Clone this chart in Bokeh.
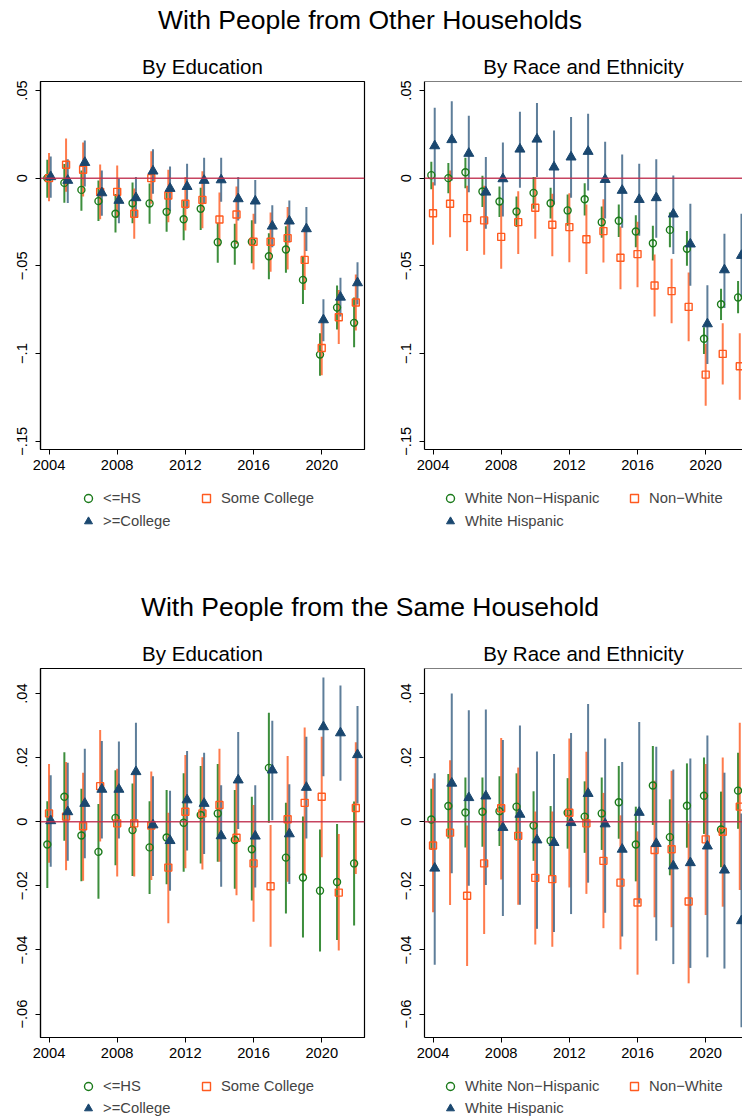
from bokeh.plotting import figure
from bokeh.models import ColumnDataSource, Div, FixedTicker, Legend, LegendItem, Span
from bokeh.layouts import column, row
from bokeh.embed import file_html
from bokeh.resources import INLINE

FONT = "Liberation Sans"
GREEN, ORANGE, NAVY = "#1a7a1a", "#ff5a1f", "#1a476f"
ZERO_RED = "#c0304f"

years = [2004, 2005, 2006, 2007, 2008, 2009, 2010, 2011, 2012, 2013,
         2014, 2015, 2016, 2017, 2018, 2019, 2020, 2021, 2022]
x_ticks = [2004, 2008, 2012, 2016, 2020]

top_title = "With People from Other Households"
bottom_title = "With People from the Same Household"
edu_title = "By Education"
race_title = "By Race and Ethnicity"
edu_labels = ["<=HS", "Some College", ">=College"]
race_labels = ["White Non\u2212Hispanic", "Non\u2212White", "White Hispanic"]

top_yticks = [0.05, 0.0, -0.05, -0.1, -0.15]
top_ylabels = [".05", "0", "\u2212.05", "\u2212.1", "\u2212.15"]
bot_yticks = [0.04, 0.02, 0.0, -0.02, -0.04, -0.06]
bot_ylabels = [".04", ".02", "0", "\u2212.02", "\u2212.04", "\u2212.06"]

# --- other households, by education
oth_hs = [0.000, -0.0027, -0.0067, -0.0131, -0.0203, -0.0143, -0.0144, -0.0192, -0.0234, -0.0175,
          -0.0365, -0.0378, -0.0363, -0.0445, -0.0407, -0.058, -0.1006, -0.0738, -0.0825]
oth_hs_lo = [-0.0112, -0.014, -0.0186, -0.0245, -0.031, -0.0257, -0.026, -0.0306, -0.0354, -0.0295,
             -0.0483, -0.0494, -0.0485, -0.0576, -0.054, -0.0717, -0.1127, -0.0863, -0.0964]
oth_hs_hi = [0.0105, 0.008, 0.0044, -0.0013, -0.009, -0.0025, -0.003, -0.008, -0.0127, -0.0055,
             -0.0255, -0.026, -0.024, -0.0314, -0.0274, -0.045, -0.0884, -0.0612, -0.068]
oth_sc = [0.0, 0.0076, 0.0048, -0.0078, -0.0078, -0.0203, 0.0, -0.0099, -0.0146, -0.0124,
          -0.0236, -0.0207, -0.0363, -0.0363, -0.0342, -0.0466, -0.0968, -0.0793, -0.0709]
oth_sc_lo = [-0.0131, -0.0078, -0.0105, -0.0234, -0.0226, -0.0346, -0.0146, -0.0251, -0.0298, -0.0285,
             -0.0388, -0.0375, -0.0521, -0.0534, -0.0521, -0.0637, -0.1124, -0.0945, -0.0869]
oth_sc_hi = [0.0143, 0.0226, 0.0203, 0.0078, 0.0072, -0.0059, 0.0154, 0.0048, 0.0006, 0.004,
             -0.0082, -0.0048, -0.0203, -0.0196, -0.0165, -0.0285, -0.0812, -0.0637, -0.0549]
oth_col = [0.0008, -0.0013, 0.0089, -0.0084, -0.0127, -0.0112, 0.004, -0.0059, -0.0048, -0.0013,
           -0.001, -0.0118, -0.0131, -0.0274, -0.0245, -0.0289, -0.0808, -0.0679, -0.0597]
oth_col_lo = [-0.0112, -0.0141, -0.0048, -0.0215, -0.0257, -0.0226, -0.0089, -0.0188, -0.0175, -0.0143,
              -0.0135, -0.0241, -0.026, -0.0394, -0.0367, -0.0416, -0.093, -0.0789, -0.072]
oth_col_hi = [0.0124, 0.0108, 0.0215, 0.0044, -0.0004, 0.0006, 0.0165, 0.0067, 0.0082, 0.0116,
              0.0116, 0.0006, -0.001, -0.0154, -0.0127, -0.0165, -0.069, -0.0568, -0.0479]

# --- other households, by race and ethnicity
oth_wnh = [0.0017, 0.0, 0.0034, -0.0076, -0.0133, -0.019, -0.0084, -0.0143, -0.0184, -0.012,
           -0.0251, -0.0243, -0.0304, -0.0371, -0.0295, -0.0403, -0.0916, -0.0719, -0.068]
oth_wnh_lo = [-0.0063, -0.0086, -0.0057, -0.0165, -0.0222, -0.0279, -0.0175, -0.023, -0.0272, -0.0213,
              -0.034, -0.0336, -0.0394, -0.047, -0.0394, -0.05, -0.1002, -0.0808, -0.077]
oth_wnh_hi = [0.0093, 0.0086, 0.0116, 0.0013, -0.0048, -0.0105, 0.0006, -0.0055, -0.0093, -0.0029,
              -0.0162, -0.015, -0.0211, -0.0272, -0.0196, -0.0302, -0.085, -0.063, -0.0587]
oth_nw = [-0.02, -0.0146, -0.0228, -0.0241, -0.0335, -0.0251, -0.0169, -0.0266, -0.0279, -0.0348,
          -0.0302, -0.0454, -0.0433, -0.0612, -0.0644, -0.0734, -0.112, -0.1002, -0.1072]
oth_nw_lo = [-0.038, -0.0337, -0.0416, -0.0437, -0.0517, -0.0432, -0.0346, -0.0445, -0.0479, -0.0546,
             -0.0481, -0.0633, -0.0622, -0.0789, -0.0827, -0.093, -0.1298, -0.1177, -0.1264]
oth_nw_hi = [-0.0023, 0.0044, -0.0044, -0.0044, -0.015, -0.0074, 0.0006, -0.0089, -0.0086, -0.015,
             -0.012, -0.0276, -0.0249, -0.0435, -0.046, -0.0538, -0.0945, -0.0827, -0.0884]
oth_wh = [0.0184, 0.0219, 0.0141, -0.008, -0.0004, 0.0165, 0.0222, 0.0063, 0.012, 0.0152,
          -0.0008, -0.007, -0.0122, -0.0112, -0.0205, -0.0376, -0.0831, -0.0523, -0.0441]
oth_wh_lo = [-0.0042, -0.0013, -0.008, -0.0289, -0.0219, -0.0055, 0.0006, -0.015, -0.0112, -0.007,
             -0.023, -0.0283, -0.0329, -0.034, -0.0432, -0.0614, -0.1059, -0.074, -0.0679]
oth_wh_hi = [0.0401, 0.0439, 0.0356, 0.012, 0.0203, 0.0378, 0.0428, 0.0272, 0.0348, 0.0367,
             0.0207, 0.0135, 0.0082, 0.0108, 0.0015, -0.0146, -0.061, -0.0317, -0.0203]

# --- same household, by education
same_hs = [-0.0071, 0.0078, -0.0043, -0.0094, 0.0012, -0.0026, -0.008, -0.0049, -0.0003, 0.0021,
           0.0026, -0.0057, -0.0086, 0.0168, -0.0112, -0.0174, -0.0215, -0.0188, -0.013]
same_hs_lo = [-0.0207, -0.0059, -0.0186, -0.024, -0.0136, -0.0169, -0.0225, -0.0195, -0.0156, -0.013,
              -0.0125, -0.0209, -0.0246, -0.0003, -0.0286, -0.0361, -0.0405, -0.0369, -0.0324]
same_hs_hi = [0.0064, 0.0217, 0.0103, 0.0055, 0.0161, 0.0119, 0.0064, 0.0099, 0.0151, 0.0174,
              0.018, 0.0099, 0.0078, 0.034, 0.0059, 0.0016, -0.0024, -0.0007, 0.0063]
same_sc = [0.0026, 0.0016, -0.0014, 0.0111, -0.0005, -0.0005, -0.0012, -0.0143, 0.0031, 0.0026,
           0.0052, -0.005, -0.013, -0.0201, 0.0008, 0.0059, 0.0078, -0.0221, 0.0043]
same_sc_lo = [-0.0128, -0.0151, -0.0184, -0.0062, -0.0171, -0.0171, -0.0182, -0.0317, -0.0145, -0.0149,
              -0.0125, -0.0229, -0.0312, -0.039, -0.0187, -0.0168, -0.0111, -0.0402, -0.0163]
same_sc_hi = [0.018, 0.0186, 0.0153, 0.0286, 0.0165, 0.0156, 0.0157, 0.0028, 0.0208, 0.0201,
              0.0228, 0.013, 0.0052, -0.001, 0.0205, 0.0294, 0.0265, -0.0038, 0.0248]
same_col = [0.0003, 0.0031, 0.0057, 0.0101, 0.0101, 0.0156, -0.001, -0.0059, 0.0068, 0.0057,
            -0.0044, 0.013, -0.0045, 0.0161, -0.0038, 0.0107, 0.0296, 0.0277, 0.0209]
same_col_lo = [-0.014, -0.0122, -0.0114, -0.0052, -0.0052, 0.0003, -0.0169, -0.0215, -0.009, -0.0101,
               -0.0203, -0.0023, -0.0205, 0.0005, -0.0194, -0.0052, 0.0142, 0.0128, 0.0057]
same_col_hi = [0.0145, 0.0184, 0.0228, 0.0252, 0.025, 0.0309, 0.0142, 0.0097, 0.0221, 0.0215,
               0.0114, 0.028, 0.0114, 0.0315, 0.0117, 0.0265, 0.045, 0.0425, 0.0361]

# --- same household, by race and ethnicity
same_wnh = [0.0007, 0.0049, 0.0029, 0.0031, 0.0033, 0.0047, -0.0012, -0.0059, 0.0028, 0.0016,
            0.0026, 0.0061, -0.0071, 0.0113, -0.0048, 0.005, 0.0081, -0.0024, 0.0097]
same_wnh_lo = [-0.0088, -0.0052, -0.008, -0.0078, -0.0076, -0.0059, -0.0122, -0.0167, -0.0084, -0.0097,
               -0.0088, -0.0053, -0.0186, -0.001, -0.0167, -0.0081, -0.0038, -0.0142, -0.0022]
same_wnh_hi = [0.0103, 0.0149, 0.0138, 0.0138, 0.0142, 0.0151, 0.0095, 0.0049, 0.0136, 0.0126,
               0.0138, 0.0174, 0.0047, 0.0236, 0.007, 0.0182, 0.02, 0.0094, 0.0215]
same_nw = [-0.0074, -0.0034, -0.0231, -0.013, 0.0042, -0.0044, -0.0175, -0.0179, 0.0028, -0.0005,
           -0.0122, -0.019, -0.0252, -0.0088, -0.0086, -0.0249, -0.0055, -0.0031, 0.0047]
same_nw_lo = [-0.0282, -0.026, -0.045, -0.035, -0.018, -0.0259, -0.0383, -0.039, -0.0205, -0.0225,
              -0.0332, -0.0398, -0.0477, -0.0298, -0.0329, -0.0504, -0.0291, -0.0265, -0.0213]
same_nw_hi = [0.0135, 0.0192, -0.0012, 0.0088, 0.0261, 0.0169, 0.0032, 0.0032, 0.026, 0.0218,
              0.009, 0.002, -0.003, 0.0128, 0.0159, -0.0005, 0.018, 0.02, 0.0309]
same_wh = [-0.0145, 0.012, 0.0075, 0.008, -0.0018, 0.0023, -0.0057, -0.0065, -0.0003, 0.0088,
           -0.0007, -0.0086, 0.0029, -0.0068, -0.0138, -0.0128, -0.0076, -0.0151, -0.0309]
same_wh_lo = [-0.0446, -0.0161, -0.02, -0.0197, -0.0294, -0.0259, -0.0334, -0.0344, -0.0288, -0.019,
              -0.0284, -0.0358, -0.0255, -0.0371, -0.0444, -0.0456, -0.0423, -0.0458, -0.0641]
same_wh_hi = [0.0151, 0.04, 0.0348, 0.035, 0.0255, 0.03, 0.0219, 0.0211, 0.0277, 0.0367,
              0.026, 0.0186, 0.0311, 0.0234, 0.0163, 0.0197, 0.0269, 0.0153, 0.0026]

# colour, marker, sideways nudge, size, error-bar alpha
STYLES = [(GREEN, "circle", -0.1, 7, 0.85), (ORANGE, "square", 0.0, 7, 0.8), (NAVY, "triangle", 0.1, 10, 0.7)]


def add_markers(p, src, style):
    color, marker, off, size, alpha = style
    if marker == "triangle":
        return p.scatter(x="x", y="y", source=src, marker=marker, size=size,
                         fill_color=color, line_color=color, line_width=1)
    return p.scatter(x="x", y="y", source=src, marker=marker, size=size,
                     fill_color=None, line_color=color, line_width=1.4)


def panel(title, series, labels, y_range, yticks, ylabels, right, frame_h, leg_h, leg_rows):
    width = 350 if right else 392
    x_end = 2022.16 if right else 2022.51
    p = figure(width=width, height=38 + frame_h + 26, x_range=(2003.5, x_end), y_range=y_range,
               title=title, output_backend="svg", toolbar_location=None,
               min_border_left=32 if right else 40, min_border_right=0 if right else 28,
               min_border_top=38, min_border_bottom=26)
    p.title.text_font = FONT
    p.title.text_font_size = "20.5px"
    p.title.text_font_style = "normal"
    p.title.text_color = "black"
    p.title.align = "center"
    p.title.standoff = 8
    p.xgrid.visible = False
    p.ygrid.visible = False
    if right:
        # the reference is cut at the window edge, so no right border
        p.outline_line_color = None
        p.add_layout(Span(location=y_range[1], dimension="width", line_color="black", line_width=1.2))
    else:
        p.outline_line_color = "black"
        p.outline_line_width = 1.2
        p.outline_line_alpha = 1

    for ax in (p.xaxis[0], p.yaxis[0]):
        ax.axis_line_color = "black"
        ax.axis_line_width = 1.2
        ax.major_tick_out = 5
        ax.major_tick_in = 0
        ax.major_tick_line_width = 1
        ax.minor_tick_line_color = None
        ax.major_label_text_font = FONT
        ax.major_label_text_font_size = "14.7px"
        ax.major_label_text_color = "black"
    p.xaxis.ticker = FixedTicker(ticks=x_ticks)
    p.xaxis.major_label_standoff = 5
    p.yaxis.ticker = FixedTicker(ticks=yticks)
    p.yaxis.major_label_overrides = dict(zip(yticks, ylabels))
    p.yaxis.major_label_orientation = "vertical"
    p.yaxis.major_label_standoff = 8

    p.add_layout(Span(location=0, dimension="width", line_color=ZERO_RED, line_width=1.5, line_alpha=0.9))

    sources = []
    for (est, lo, hi), style in zip(series, STYLES):
        color, marker, off, size, alpha = style
        src = ColumnDataSource(data=dict(x=[yr + off for yr in years], y=est, lo=lo, hi=hi))
        sources.append(src)
        p.segment(x0="x", y0="lo", x1="x", y1="hi", source=src,
                  line_color=color, line_width=2, line_alpha=alpha)
    for src, style in zip(sources, STYLES):
        add_markers(p, src, style)

    # legend strip under the panel; its markers use the same sources, out of view
    leg = figure(width=width, height=leg_h, x_range=(0, 1), y_range=(0, 1),
                 output_backend="svg", toolbar_location=None,
                 x_axis_location=None, y_axis_location=None,
                 min_border_left=0, min_border_right=0, min_border_top=0, min_border_bottom=0)
    leg.outline_line_color = None
    leg.xgrid.visible = False
    leg.ygrid.visible = False
    items = [LegendItem(label=label, renderers=[add_markers(leg, src, style)])
             for src, style, label in zip(sources, STYLES, labels)]
    # the strip's frame lines up with the panel frame above it
    vx = 16 if right else 38
    label_w = 159 if right else 93
    for row_items, vy in zip([items[:2], items[2:]], leg_rows):
        legend = Legend(items=row_items, orientation="horizontal", location=(vx, vy),
                        label_text_font=FONT, label_text_font_size="14.8px",
                        glyph_width=20, glyph_height=20, label_height=20,
                        label_standoff=5, label_width=label_w, spacing=0,
                        padding=0, margin=0, border_line_color=None, background_fill_alpha=0)
        leg.add_layout(legend)
    return column(p, leg, spacing=0)


tl = panel(edu_title, [(oth_hs, oth_hs_lo, oth_hs_hi), (oth_sc, oth_sc_lo, oth_sc_hi),
                       (oth_col, oth_col_lo, oth_col_hi)], edu_labels,
           (-0.1547, 0.0551), top_yticks, top_ylabels, False, 368, 120, (87, 64))
tr = panel(race_title, [(oth_wnh, oth_wnh_lo, oth_wnh_hi), (oth_nw, oth_nw_lo, oth_nw_hi),
                        (oth_wh, oth_wh_lo, oth_wh_hi)], race_labels,
           (-0.1547, 0.0551), top_yticks, top_ylabels, True, 368, 120, (87, 64))
bl = panel(edu_title, [(same_hs, same_hs_lo, same_hs_hi), (same_sc, same_sc_lo, same_sc_hi),
                       (same_col, same_col_lo, same_col_hi)], edu_labels,
           (-0.0673, 0.0478), bot_yticks, bot_ylabels, False, 369, 55, (22, 0))
br = panel(race_title, [(same_wnh, same_wnh_lo, same_wnh_hi), (same_nw, same_nw_lo, same_nw_hi),
                        (same_wh, same_wh_lo, same_wh_hi)], race_labels,
           (-0.0673, 0.0478), bot_yticks, bot_ylabels, True, 369, 55, (22, 0))

title_style = {"font-family": FONT, "font-size": "26.5px", "line-height": "24px",
               "text-align": "center", "color": "black"}
head1 = Div(text=top_title, width=740, height=35, margin=(8, 0, 0, 0), styles=title_style)
head2 = Div(text=bottom_title, width=740, height=35, margin=0, styles=title_style)

page = column(head1, row(tl, tr, spacing=0), head2, row(bl, br, spacing=0), spacing=0)

open("out.html", "w").write(file_html(page, INLINE))
